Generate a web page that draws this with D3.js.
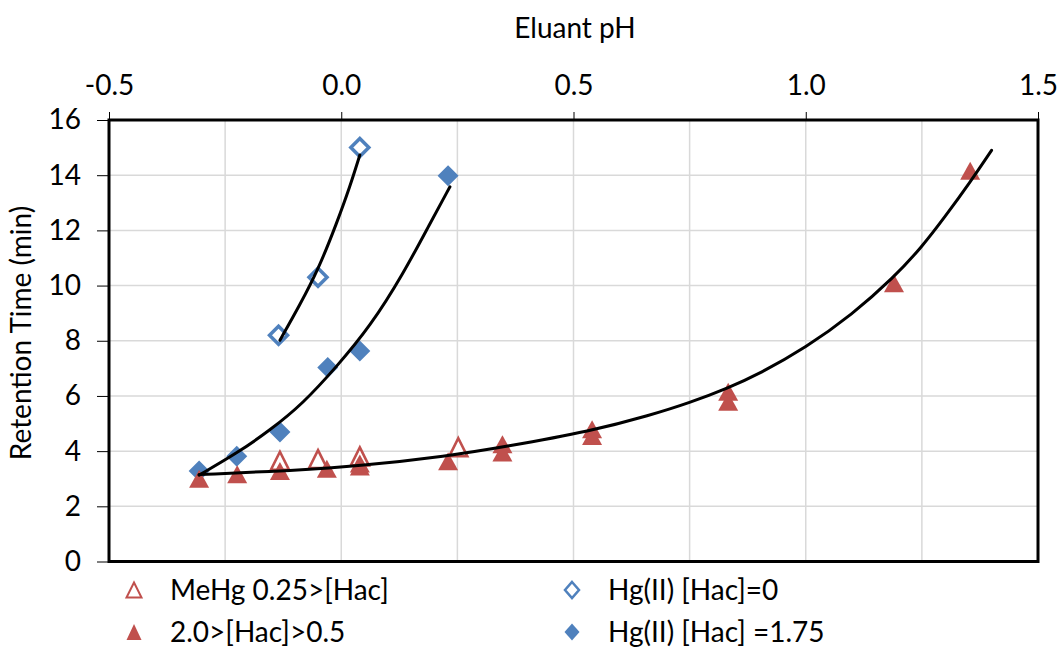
<!DOCTYPE html>
<html>
<head>
<meta charset="utf-8">
<script src="https://cdn.jsdelivr.net/npm/d3@7"></script>
<style>
  html, body { margin: 0; padding: 0; background: #fff; }
  svg { display: block; }
  text { font-family: Lato, "Open Sans", sans-serif; fill: #000; }
</style>
</head>
<body>
<svg id="chart" width="1062" height="649"></svg>
<script>
// ---- data ----
const xTickValues = [-0.5, 0.0, 0.5, 1.0, 1.5];
const xTickLabels = ["-0.5", "0.0", "0.5", "1.0", "1.5"];
const yTickValues = [0, 2, 4, 6, 8, 10, 12, 14, 16];
const xGridValues = [-0.25, 0, 0.25, 0.5, 0.75, 1.0, 1.25];

// MeHg 0.25>[Hac] (open triangles)
const meHgOpenPH = [-0.132, -0.05, 0.04, 0.252];
const meHgOpenRT = [3.65, 3.71, 3.81, 4.14];

// 2.0>[Hac]>0.5 (filled triangles)
const meHgFilledPH = [-0.306, -0.224, -0.132, -0.031, 0.04, 0.04, 0.23, 0.347, 0.347, 0.54, 0.54, 0.833, 0.833, 1.19, 1.354];
const meHgFilledRT = [3.0, 3.16, 3.28, 3.36, 3.44, 3.55, 3.63, 3.95, 4.25, 4.55, 4.79, 5.79, 6.15, 10.08, 14.16];

// Hg(II) [Hac]=0 (open diamonds)
const hgOpenPH = [-0.135, -0.05, 0.04];
const hgOpenRT = [8.2, 10.3, 15.0];

// Hg(II) [Hac] =1.75 (filled diamonds)
const hgFilledPH = [-0.306, -0.225, -0.132, -0.029, 0.04, 0.23];
const hgFilledRT = [3.28, 3.81, 4.69, 7.03, 7.63, 13.98];

// trend curves
const fitHgOpenPH = [-0.132, -0.089, -0.049, -0.010, 0.019, 0.040];
const fitHgOpenRT = [8.02, 9.3, 10.6, 12.25, 13.6, 14.73];

const fitHgFilledPH = [-0.306, -0.225, -0.153, -0.082, -0.010, 0.062, 0.134, 0.191, 0.234];
const fitHgFilledRT = [3.13, 3.92, 4.76, 5.73, 7.06, 8.51, 10.44, 12.25, 13.58];

const fitMeHgPH = [-0.306, -0.1, 0.04, 0.23, 0.35, 0.54, 0.665, 0.75, 0.833, 0.9, 1.0, 1.1, 1.19, 1.25, 1.3, 1.354, 1.40];
const fitMeHgRT = [3.15, 3.3, 3.46, 3.82, 4.15, 4.73, 5.3, 5.75, 6.29, 6.8, 7.75, 8.95, 10.3, 11.4, 12.5, 13.75, 14.9];

const legendLabels = ["MeHg 0.25>[Hac]", "Hg(II) [Hac]=0", "2.0>[Hac]>0.5", "Hg(II) [Hac] =1.75"];

const RED = "#C0504D";
const BLUE = "#4F81BD";

// ---- chart ----
const svg = d3.select("#chart");
const L = 109, R = 1038, T = 120, B = 561.5;
const x = d3.scaleLinear().domain([-0.5, 1.5]).range([L, R]);
const y = d3.scaleLinear().domain([0, 16]).range([B, T]);

// gridlines
const grid = svg.append("g");
grid.selectAll("line.gx").data(xGridValues).join("line")
  .attr("x1", d => x(d)).attr("x2", d => x(d)).attr("y1", T).attr("y2", B)
  .attr("stroke", "#D9D9D9").attr("stroke-width", 1.5);
grid.selectAll("line.gy").data(yTickValues.slice(1)).join("line")
  .attr("x1", L).attr("x2", R).attr("y1", d => y(d)).attr("y2", d => y(d))
  .attr("stroke", "#D9D9D9").attr("stroke-width", 1.5);

// axes
const xAxis = d3.axisTop(x).tickValues(xTickValues)
  .tickFormat((d, i) => xTickLabels[i]).tickSize(8).tickPadding(17);
const gx = svg.append("g").attr("transform", `translate(0,${T})`).call(xAxis);
gx.select(".domain").remove();
gx.selectAll(".tick line").attr("stroke", "#000").attr("stroke-width", 1);
gx.selectAll(".tick text").style("font-size", "28px").style("font-family", "Lato, sans-serif");

const yAxis = d3.axisLeft(y).tickValues(yTickValues).tickSize(12).tickPadding(16);
const gy = svg.append("g").attr("transform", `translate(${L},0)`).call(yAxis);
gy.select(".domain").remove();
gy.selectAll(".tick line").attr("stroke", "#000").attr("stroke-width", 1);
gy.selectAll(".tick text").style("font-size", "28px").style("font-family", "Lato, sans-serif");

// frame
svg.append("rect").attr("x", L).attr("y", T).attr("width", R - L).attr("height", B - T)
  .attr("fill", "none").attr("stroke", "#000").attr("stroke-width", 3);

// titles
svg.append("text").attr("x", 575).attr("y", 38).attr("text-anchor", "middle")
  .style("font-size", "28px").text("Eluant pH");
svg.append("text").attr("transform", "translate(31,333) rotate(-90)").attr("text-anchor", "middle")
  .style("font-size", "28px").text("Retention Time (min)");

// marker paths
function triPath(w, h) { return `M0,${-h/2}L${w/2},${h/2}L${-w/2},${h/2}Z`; }
function diaPath(w, h) { return `M0,${-h/2}L${w/2},0L0,${h/2}L${-w/2},0Z`; }

const zip = (a, b) => a.map((v, i) => [v, b[i]]);

const marks = svg.append("g");
// open triangles
marks.selectAll("path.ot").data(zip(meHgOpenPH, meHgOpenRT)).join("path")
  .attr("d", triPath(18, 18)).attr("transform", d => `translate(${x(d[0])},${y(d[1])})`)
  .attr("fill", "#fff").attr("stroke", RED).attr("stroke-width", 2.6);
// open diamonds
marks.selectAll("path.od").data(zip(hgOpenPH, hgOpenRT)).join("path")
  .attr("d", diaPath(18, 18)).attr("transform", d => `translate(${x(d[0])},${y(d[1])})`)
  .attr("fill", "#fff").attr("stroke", BLUE).attr("stroke-width", 3.5);
// filled diamonds
marks.selectAll("path.fd").data(zip(hgFilledPH, hgFilledRT)).join("path")
  .attr("d", diaPath(21, 21)).attr("transform", d => `translate(${x(d[0])},${y(d[1])})`)
  .attr("fill", BLUE);
// filled triangles
marks.selectAll("path.ft").data(zip(meHgFilledPH, meHgFilledRT)).join("path")
  .attr("d", triPath(20, 18)).attr("transform", d => `translate(${x(d[0])},${y(d[1])})`)
  .attr("fill", RED);

// trend lines
const line = d3.line().x(d => x(d[0])).y(d => y(d[1])).curve(d3.curveBasis);
[[fitHgOpenPH, fitHgOpenRT], [fitHgFilledPH, fitHgFilledRT], [fitMeHgPH, fitMeHgRT]].forEach(([px, py]) => {
  svg.append("path").datum(zip(px, py)).attr("d", line)
    .attr("fill", "none").attr("stroke", "#000").attr("stroke-width", 3).attr("stroke-linecap", "round");
});

// legend
const legendPos = [[134, 590], [572, 590], [134, 632], [572, 632]];
const lg = svg.append("g");
legendLabels.forEach((lab, i) => {
  const [lx, ly] = legendPos[i];
  const p = lg.append("path").attr("transform", `translate(${lx},${ly})`);
  if (i === 0) p.attr("d", triPath(15, 15)).attr("fill", "#fff").attr("stroke", RED).attr("stroke-width", 2);
  if (i === 1) p.attr("d", diaPath(14, 16)).attr("fill", "#fff").attr("stroke", BLUE).attr("stroke-width", 2.5);
  if (i === 2) p.attr("d", triPath(15, 16)).attr("fill", RED);
  if (i === 3) p.attr("d", diaPath(15, 17)).attr("fill", BLUE);
  lg.append("text").attr("x", lx + 36).attr("y", ly + 10).style("font-size", "28px").text(lab);
});
</script>
</body>
</html>
